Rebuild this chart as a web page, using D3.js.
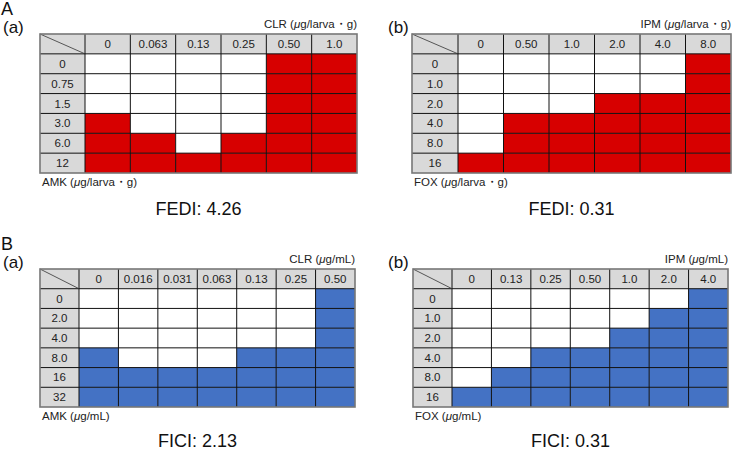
<!DOCTYPE html>
<html>
<head>
<meta charset="utf-8">
<script src="https://cdn.jsdelivr.net/npm/d3@7"></script>
<style>
  body { margin: 0; background: #fff; }
  svg { font-family: "Liberation Sans", Arial, sans-serif; }
</style>
</head>
<body>
<div id="chart"></div>
<script>
// A(a) CLR x AMK, in vivo
const aaCols = ["0", "0.063", "0.13", "0.25", "0.50", "1.0"];
const aaRows = ["0", "0.75", "1.5", "3.0", "6.0", "12"];
const aaGrid = [
  [0, 0, 0, 0, 1, 1],
  [0, 0, 0, 0, 1, 1],
  [0, 0, 0, 0, 1, 1],
  [1, 0, 0, 0, 1, 1],
  [1, 1, 0, 1, 1, 1],
  [1, 1, 1, 1, 1, 1]
];
// A(b) IPM x FOX, in vivo
const abCols = ["0", "0.50", "1.0", "2.0", "4.0", "8.0"];
const abRows = ["0", "1.0", "2.0", "4.0", "8.0", "16"];
const abGrid = [
  [0, 0, 0, 0, 0, 1],
  [0, 0, 0, 0, 0, 1],
  [0, 0, 0, 1, 1, 1],
  [0, 1, 1, 1, 1, 1],
  [0, 1, 1, 1, 1, 1],
  [1, 1, 1, 1, 1, 1]
];
// B(a) CLR x AMK, in vitro
const baCols = ["0", "0.016", "0.031", "0.063", "0.13", "0.25", "0.50"];
const baRows = ["0", "2.0", "4.0", "8.0", "16", "32"];
const baGrid = [
  [0, 0, 0, 0, 0, 0, 1],
  [0, 0, 0, 0, 0, 0, 1],
  [0, 0, 0, 0, 0, 0, 1],
  [1, 0, 0, 0, 1, 1, 1],
  [1, 1, 1, 1, 1, 1, 1],
  [1, 1, 1, 1, 1, 1, 1]
];
// B(b) IPM x FOX, in vitro
const bbCols = ["0", "0.13", "0.25", "0.50", "1.0", "2.0", "4.0"];
const bbRows = ["0", "1.0", "2.0", "4.0", "8.0", "16"];
const bbGrid = [
  [0, 0, 0, 0, 0, 0, 1],
  [0, 0, 0, 0, 0, 1, 1],
  [0, 0, 0, 0, 1, 1, 1],
  [0, 0, 1, 1, 1, 1, 1],
  [0, 1, 1, 1, 1, 1, 1],
  [1, 1, 1, 1, 1, 1, 1]
];

const W = 735, H = 450;
const svg = d3.select("#chart").append("svg")
  .attr("width", W).attr("height", H);

const panels = [
  { cols: aaCols, rows: aaRows, grid: aaGrid, color: "#d70000",
    x0: 40, x1: 357, hw: 45, y0: 34, y1: 173, idxY: 215,
    drugTop: "CLR", drugSide: "AMK", unit: "g/larva\u30fbg", index: "FEDI: 4.26",
    letter: "A", sub: "(a)", subX: 3 },
  { cols: abCols, rows: abRows, grid: abGrid, color: "#d70000",
    x0: 412, x1: 731, hw: 46, y0: 34, y1: 173, idxY: 215,
    drugTop: "IPM", drugSide: "FOX", unit: "g/larva\u30fbg", index: "FEDI: 0.31",
    sub: "(b)", subX: 388 },
  { cols: baCols, rows: baRows, grid: baGrid, color: "#4472c4",
    x0: 40, x1: 355, hw: 39, y0: 269, y1: 407, idxY: 447,
    drugTop: "CLR", drugSide: "AMK", unit: "g/mL", index: "FICI: 2.13",
    letter: "B", sub: "(a)", subX: 3 },
  { cols: bbCols, rows: bbRows, grid: bbGrid, color: "#4472c4",
    x0: 413, x1: 728, hw: 39, y0: 269, y1: 407, idxY: 447,
    drugTop: "IPM", drugSide: "FOX", unit: "g/mL", index: "FICI: 0.31",
    sub: "(b)", subX: 388 }
];

function unitLabel(sel, drug, unit) {
  sel.append("tspan").text(drug + " (");
  sel.append("tspan").attr("font-style", "italic").text("\u03bc");
  sel.append("tspan").text(unit + ")");
}

panels.forEach(p => {
  const g = svg.append("g");
  const x = d3.scaleBand().domain(p.cols).range([p.x0 + p.hw, p.x1]);
  const y = d3.scaleBand().domain(["hdr"].concat(p.rows)).range([p.y0, p.y1]);

  // header backgrounds
  g.append("rect").attr("x", p.x0).attr("y", p.y0)
    .attr("width", p.x1 - p.x0).attr("height", y.bandwidth()).attr("fill", "#d9d9d9");
  g.append("rect").attr("x", p.x0).attr("y", p.y0)
    .attr("width", p.hw).attr("height", p.y1 - p.y0).attr("fill", "#d9d9d9");

  // cells
  const cells = [];
  p.rows.forEach((r, i) => p.cols.forEach((c, j) => cells.push({ r, c, v: p.grid[i][j] })));
  g.selectAll("rect.cell").data(cells).join("rect")
    .attr("class", "cell")
    .attr("x", d => x(d.c)).attr("y", d => y(d.r))
    .attr("width", x.bandwidth()).attr("height", y.bandwidth())
    .attr("fill", d => d.v ? p.color : "#fff");

  // grid lines
  const inner = "#111";
  p.cols.forEach(c => {
    g.append("line").attr("x1", x(c)).attr("x2", x(c))
      .attr("y1", p.y0).attr("y2", p.y1)
      .attr("stroke", inner).attr("stroke-width", 1);
  });
  p.rows.forEach(r => {
    g.append("line").attr("x1", p.x0).attr("x2", p.x1)
      .attr("y1", y(r)).attr("y2", y(r))
      .attr("stroke", inner).attr("stroke-width", 1);
  });
  // diagonal in corner
  g.append("line").attr("x1", p.x0).attr("y1", p.y0)
    .attr("x2", p.x0 + p.hw).attr("y2", p.y0 + y.bandwidth())
    .attr("stroke", "#333").attr("stroke-width", 0.8);
  // outer frame
  g.append("rect").attr("x", p.x0).attr("y", p.y0)
    .attr("width", p.x1 - p.x0).attr("height", p.y1 - p.y0)
    .attr("fill", "none").attr("stroke", "#777").attr("stroke-width", 1.6);

  // labels
  g.selectAll("text.col").data(p.cols).join("text")
    .attr("x", d => x(d) + x.bandwidth() / 2).attr("y", y("hdr") + y.bandwidth() / 2 + 4)
    .attr("text-anchor", "middle").attr("font-size", 11.5).attr("fill", "#222").text(d => d);
  g.selectAll("text.row").data(p.rows).join("text")
    .attr("x", p.x0 + p.hw / 2).attr("y", d => y(d) + y.bandwidth() / 2 + 4)
    .attr("text-anchor", "middle").attr("font-size", 11.5).attr("fill", "#222").text(d => d);

  g.append("text").attr("x", p.x1).attr("y", p.y0 - 6)
    .attr("text-anchor", "end").attr("font-size", 11.5).attr("fill", "#222")
    .call(unitLabel, p.drugTop, p.unit);
  g.append("text").attr("x", p.x0 + 2).attr("y", p.y1 + 13)
    .attr("font-size", 11.5).attr("fill", "#222")
    .call(unitLabel, p.drugSide, p.unit);
  g.append("text").attr("x", (p.x0 + p.x1) / 2).attr("y", p.idxY)
    .attr("text-anchor", "middle").attr("font-size", 18).attr("fill", "#111").text(p.index);

  if (p.letter) {
    g.append("text").attr("x", 1).attr("y", p.y0 - 19)
      .attr("font-size", 18).attr("fill", "#111").text(p.letter);
  }
  g.append("text").attr("x", p.subX).attr("y", p.y0 - 1)
    .attr("font-size", 17).attr("fill", "#111").text(p.sub);
});
</script>
</body>
</html>
